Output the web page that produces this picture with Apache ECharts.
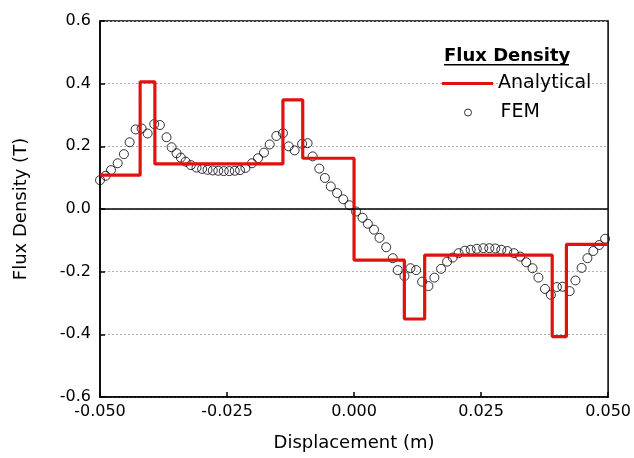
<!DOCTYPE html>
<html>
<head>
<meta charset="utf-8">
<script src="https://cdn.jsdelivr.net/npm/echarts@6/dist/echarts.min.js"></script>
<style>
  html, body { margin: 0; padding: 0; background: #fff; }
  #chart { width: 634px; height: 458px; }
</style>
</head>
<body>
<div id="chart"></div>
<script>
// Analytical flux density: piecewise-constant levels between edge positions (m)
const analyticalEdges = [-0.05, -0.0421, -0.0392, -0.0140, -0.0101, 0.0, 0.0099, 0.0139, 0.0390, 0.0418, 0.05];
const analyticalLevels = [0.108, 0.406, 0.144, 0.348, 0.162, -0.163, -0.351, -0.147, -0.407, -0.113];

// FEM samples: displacement (m) and flux density (T)
const femX = [
  -0.0500, -0.04888, -0.04784, -0.04652, -0.04529, -0.04417, -0.04299, -0.04181, -0.04063, -0.03933,
  -0.03821, -0.03690, -0.03591, -0.03493, -0.03409, -0.03316, -0.03212, -0.03100, -0.02990, -0.02884,
  -0.02780, -0.02672, -0.02564, -0.02456, -0.02348, -0.02244, -0.02138, -0.02008, -0.01890, -0.01772,
  -0.01660, -0.01529, -0.01399, -0.01287, -0.01169, -0.01022, -0.00914, -0.00815, -0.00684, -0.00574,
  -0.00458, -0.00334, -0.00212, -0.00089, 0.00039, 0.00167, 0.00271, 0.00393, 0.00501, 0.00633,
  0.00762, 0.00860, 0.00992, 0.01110, 0.01222, 0.01340, 0.01464, 0.01581, 0.01713, 0.01831,
  0.01941, 0.02057, 0.02181, 0.02295, 0.02416, 0.02544, 0.02662, 0.02780, 0.02898, 0.03016,
  0.03147, 0.03271, 0.03389, 0.03513, 0.03629, 0.03758, 0.03874, 0.03992, 0.04102, 0.04243,
  0.04357, 0.04479, 0.04593, 0.04709, 0.04823, 0.04941
];
const femB = [
  0.092, 0.106, 0.124, 0.146, 0.175, 0.213, 0.254, 0.257, 0.241, 0.271,
  0.268, 0.229, 0.197, 0.178, 0.164, 0.151, 0.140, 0.132, 0.128, 0.125,
  0.123, 0.122, 0.121, 0.121, 0.122, 0.124, 0.131, 0.146, 0.162, 0.180,
  0.206, 0.233, 0.242, 0.200, 0.187, 0.208, 0.210, 0.168, 0.129, 0.099,
  0.072, 0.051, 0.031, 0.012, -0.008, -0.028, -0.047, -0.066, -0.092, -0.122,
  -0.157, -0.195, -0.214, -0.189, -0.195, -0.232, -0.246, -0.219, -0.191, -0.168,
  -0.155, -0.141, -0.133, -0.130, -0.127, -0.125, -0.125, -0.126, -0.130, -0.134,
  -0.141, -0.152, -0.170, -0.189, -0.219, -0.255, -0.274, -0.249, -0.248, -0.262,
  -0.228, -0.188, -0.157, -0.134, -0.115, -0.095
];

const xTicks = { min: -0.05, max: 0.05, step: 0.025 };
const yTicks = { min: -0.6, max: 0.6, step: 0.2 };

const FONT = 'DejaVu Sans';
const RED = '#e0110f';

// Build the step outline from the edges and levels
const analyticalData = [];
for (let i = 0; i < analyticalLevels.length; i++) {
  analyticalData.push([analyticalEdges[i], analyticalLevels[i]]);
  analyticalData.push([analyticalEdges[i + 1], analyticalLevels[i]]);
}
const femData = femX.map((x, i) => [x, femB[i]]);

const chart = echarts.init(document.getElementById('chart'), null, { renderer: 'canvas' });

chart.setOption({
  animation: false,
  backgroundColor: '#fff',
  grid: {
    left: 100, right: 25, top: 21, bottom: 61,
    show: true, borderColor: '#000', borderWidth: 1.5
  },
  graphic: [
    {
      type: 'text', left: 444, top: 47, z: 10,
      style: { text: 'Flux Density', font: 'bold 18px "' + FONT + '"', fill: '#000' }
    },
    {
      type: 'rect', left: 444, top: 64, z: 10,
      shape: { width: 125, height: 1.6 },
      style: { fill: '#000' }
    }
  ],
  legend: [
    {
      data: [{ name: 'Analytical', icon: 'rect' }], left: 442, top: 74, padding: 0,
      itemWidth: 51, itemHeight: 3, itemGap: 0,
      itemStyle: { color: RED, borderWidth: 0 },
      lineStyle: { width: 0 },
      textStyle: { fontFamily: FONT, fontSize: 19, color: '#000', padding: [0, 0, 0, 0] }
    },
    {
      data: [{ name: 'FEM', icon: 'circle' }], left: 464, top: 103, padding: 0,
      itemWidth: 7, itemHeight: 7, itemGap: 0,
      itemStyle: { color: 'transparent', borderColor: '#000', borderWidth: 1 },
      textStyle: { fontFamily: FONT, fontSize: 19, color: '#000', padding: [0, 0, 0, 24] }
    }
  ],
  xAxis: {
    type: 'value',
    min: xTicks.min, max: xTicks.max, interval: xTicks.step,
    name: 'Displacement (m)', nameLocation: 'middle', nameGap: 37,
    nameTextStyle: { fontFamily: FONT, fontSize: 18, color: '#000' },
    axisLine: { show: true, onZero: false, lineStyle: { color: '#000', width: 1.5 } },
    axisTick: { show: true, inside: true, length: 5, lineStyle: { color: '#000', width: 1.5 } },
    axisLabel: {
      fontFamily: FONT, fontSize: 16, color: '#000', margin: 7,
      formatter: v => (Math.abs(v) < 1e-9 ? 0 : v).toFixed(3)
    },
    splitLine: { show: false }
  },
  yAxis: {
    type: 'value',
    min: yTicks.min, max: yTicks.max, interval: yTicks.step,
    name: 'Flux Density (T)', nameLocation: 'middle', nameGap: 70,
    nameTextStyle: { fontFamily: FONT, fontSize: 18, color: '#000' },
    axisLine: { show: true, onZero: false, lineStyle: { color: '#000', width: 1.5 } },
    axisTick: { show: true, inside: true, length: 5, lineStyle: { color: '#000', width: 1.5 } },
    axisLabel: {
      fontFamily: FONT, fontSize: 16, color: '#000', margin: 9,
      formatter: v => (Math.abs(v) < 1e-9 ? 0 : v).toFixed(1)
    },
    splitLine: { show: true, lineStyle: { color: '#b0b0b0', width: 1, type: [2, 2] } }
  },
  series: [
    {
      name: 'FEM',
      type: 'scatter',
      data: femData,
      symbol: 'circle',
      symbolSize: 9,
      itemStyle: { color: 'transparent', borderColor: '#000', borderWidth: 1 },
      z: 2,
      markLine: {
        silent: true, symbol: 'none', label: { show: false },
        lineStyle: { color: '#000', width: 1.5, type: 'solid' },
        data: [{ yAxis: 0 }]
      }
    },
    {
      name: 'Analytical',
      type: 'line',
      data: analyticalData,
      showSymbol: false,
      symbol: 'none',
      lineStyle: { color: RED, width: 3.2 },
      itemStyle: { color: RED },
      z: 3
    }
  ]
});
</script>
</body>
</html>
